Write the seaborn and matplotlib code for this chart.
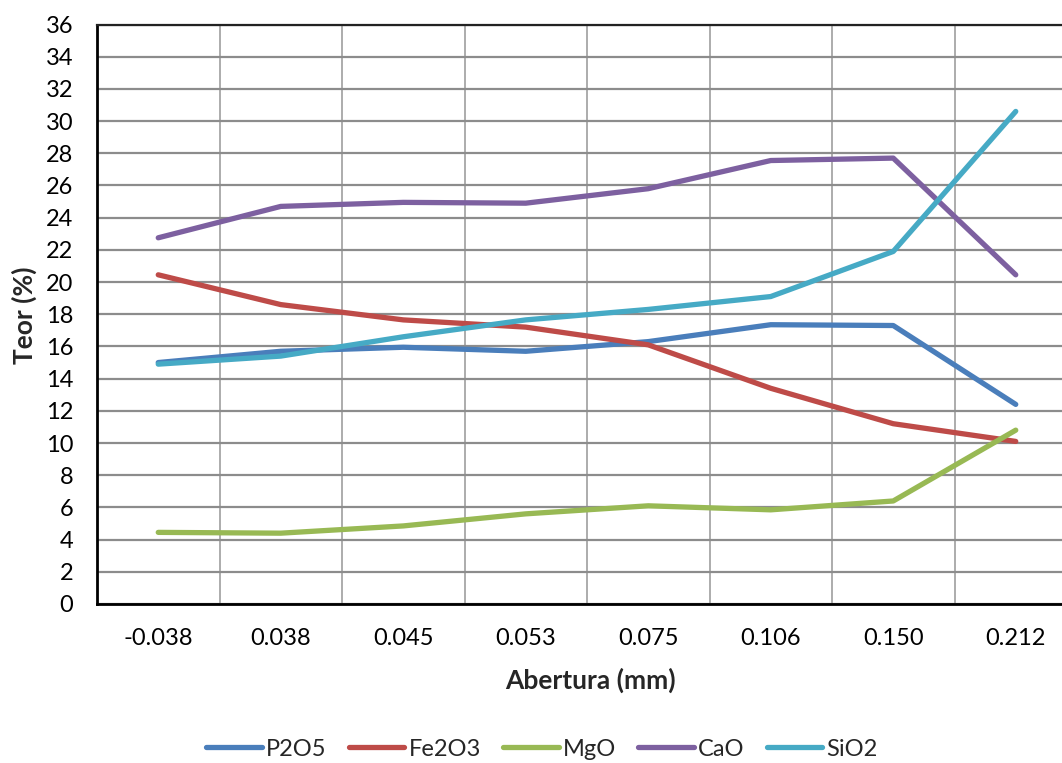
import matplotlib
matplotlib.use("Agg")
import matplotlib.pyplot as plt
import seaborn as sns
import pandas as pd
from matplotlib.ticker import MultipleLocator, FixedLocator

categories = ["-0.038", "0.038", "0.045", "0.053", "0.075", "0.106", "0.150", "0.212"]
p2o5 = [15.0, 15.7, 15.95, 15.7, 16.3, 17.35, 17.3, 12.4]
fe2o3 = [20.45, 18.6, 17.65, 17.2, 16.1, 13.4, 11.2, 10.1]
mgo = [4.45, 4.4, 4.85, 5.6, 6.1, 5.85, 6.4, 10.8]
cao = [22.75, 24.7, 24.95, 24.9, 25.8, 27.55, 27.7, 20.45]
sio2 = [14.9, 15.4, 16.6, 17.65, 18.3, 19.1, 21.9, 30.6]
series_names = ["P2O5", "Fe2O3", "MgO", "CaO", "SiO2"]
colors = ["#4A7EBB", "#BE4B48", "#98B954", "#7D60A0", "#46AAC5"]

rows = []
for name, vals in zip(series_names, [p2o5, fe2o3, mgo, cao, sio2]):
    for i, (c, v) in enumerate(zip(categories, vals)):
        rows.append({"pos": i, "cat": c, "Teor": v, "serie": name})
df = pd.DataFrame(rows)

sns.set_style("white")
plt.rcParams["font.family"] = ["Lato", "DejaVu Sans"]

fig = plt.figure(figsize=(10.62, 7.63), dpi=100)
ax = fig.add_axes([97 / 1062, 1 - 604 / 763, 980 / 1062, 579.5 / 763])

sns.lineplot(data=df, x="pos", y="Teor", hue="serie", hue_order=series_names,
             palette=colors, linewidth=3.8, ax=ax, legend=False,
             solid_capstyle="round", solid_joinstyle="round")

ax.set_xlim(-0.5, len(categories) - 0.5)
ax.set_ylim(0, 36)
ax.yaxis.set_major_locator(MultipleLocator(2))
ax.xaxis.set_major_locator(FixedLocator(range(len(categories))))
ax.set_xticklabels(categories)
ax.xaxis.set_minor_locator(FixedLocator([i + 0.5 for i in range(len(categories) - 1)]))
ax.grid(False)
ax.grid(axis="y", which="major", color="#8C8C8C", linewidth=1.6, zorder=0)
ax.grid(axis="x", which="minor", color="#A6A6A6", linewidth=1.3, zorder=0)
ax.set_axisbelow(True)
ax.tick_params(axis="both", which="both", length=0, labelsize=17, colors="black")
ax.tick_params(axis="x", pad=17)
ax.tick_params(axis="y", pad=17)

ax.spines["right"].set_visible(False)
ax.spines["top"].set_color("#222222")
ax.spines["top"].set_linewidth(1.6)
for s in ["left", "bottom"]:
    ax.spines[s].set_color("black")
    ax.spines[s].set_linewidth(2)

ax.set_xlabel("Abertura (mm)", fontsize=19, fontweight="bold")
ax.set_ylabel("Teor (%)", fontsize=19, fontweight="bold")
ax.xaxis.set_label_coords((590 - 97) / 980, (604 - 680) / 579.5)
ax.xaxis.label.set_verticalalignment("center")
ax.yaxis.set_label_coords((24 - 97) / 980, (604 - 315) / 579.5)
ax.yaxis.label.set_verticalalignment("center")

handles = [plt.Line2D([0], [0], color=c, linewidth=3.8, solid_capstyle="round") for c in colors]
fig.legend(handles, series_names, loc="center", bbox_to_anchor=(542 / 1062, 1 - 749 / 763),
           ncol=5, frameon=False, fontsize=17, handlelength=2.35, columnspacing=0.95,
           handletextpad=0.17, borderpad=0, borderaxespad=0)

fig.savefig("out.png", dpi=100)
